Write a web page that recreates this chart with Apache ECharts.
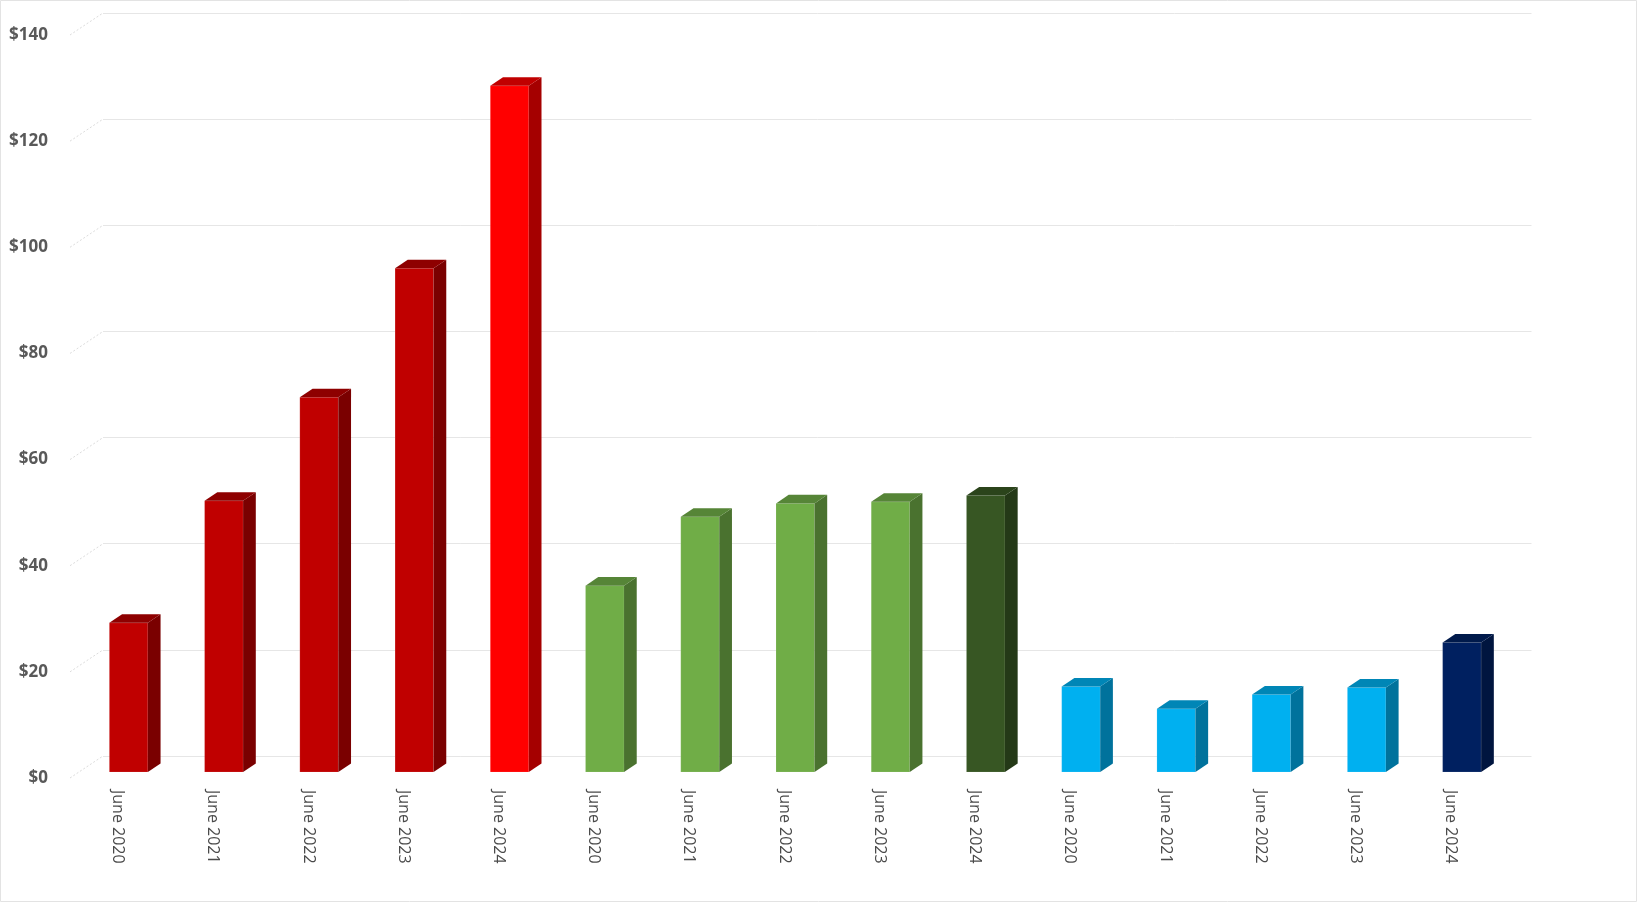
<!DOCTYPE html>
<html lang="en">
<head>
    <meta charset="UTF-8">
    <title>June prices</title>
    <style>
        *{
            padding:0;
            margin:0;
        }
    </style>
    <script src="https://cdn.jsdelivr.net/npm/echarts@6/dist/echarts.min.js"></script>
</head>
<body>
    <div id="main" style="width: 1637px;height: 902px;"></div>
    <script>
        // x axis categories, three groups of five years
        var categories = [
            'June 2020', 'June 2021', 'June 2022', 'June 2023', 'June 2024',
            'June 2020', 'June 2021', 'June 2022', 'June 2023', 'June 2024',
            'June 2020', 'June 2021', 'June 2022', 'June 2023', 'June 2024'
        ];
        var redValues = [28.1, 51.1, 70.6, 94.9, 129.3];
        var greenValues = [35.1, 48.1, 50.6, 50.9, 52.1];
        var blueValues = [16.1, 11.9, 14.6, 15.9, 24.4];
        var yTicks = [0, 20, 40, 60, 80, 100, 120, 140];

        // front / side / top shade for each bar
        var shades = [
            ['#c00000', '#7a0000', '#8e0000'],
            ['#c00000', '#7a0000', '#8e0000'],
            ['#c00000', '#7a0000', '#8e0000'],
            ['#c00000', '#7a0000', '#8e0000'],
            ['#ff0000', '#a50000', '#c00000'],
            ['#70ad47', '#4a722f', '#568537'],
            ['#70ad47', '#4a722f', '#568537'],
            ['#70ad47', '#4a722f', '#568537'],
            ['#70ad47', '#4a722f', '#568537'],
            ['#375623', '#243917', '#2b441b'],
            ['#00b0f0', '#00729c', '#0086b6'],
            ['#00b0f0', '#00729c', '#0086b6'],
            ['#00b0f0', '#00729c', '#0086b6'],
            ['#00b0f0', '#00729c', '#0086b6'],
            ['#002060', '#00153f', '#001a4b']
        ];

        var values = redValues.concat(greenValues, blueValues);
        var barData = values.map(function (v, i) { return [i, v]; });

        var DX = 12.7, DY = -8.6, BAR_W = 38.5;

        function renderBar(params, api) {
            var i = api.value(0);
            var top = api.coord([i, api.value(1)]);
            var base = api.coord([i, 0]);
            var x0 = top[0] - BAR_W / 2, x1 = top[0] + BAR_W / 2;
            var c = shades[i];
            var edge = 'rgba(255,255,255,0.2)';
            return {
                type: 'group',
                children: [
                    {
                        type: 'rect',
                        shape: {x: x0, y: top[1], width: BAR_W, height: base[1] - top[1]},
                        style: {fill: c[0], stroke: edge, lineWidth: 0.6}
                    },
                    {
                        type: 'polygon',
                        shape: {points: [[x1, top[1]], [x1 + DX, top[1] + DY], [x1 + DX, base[1] + DY], [x1, base[1]]]},
                        style: {fill: c[1]}
                    },
                    {
                        type: 'polygon',
                        shape: {points: [[x0, top[1]], [x0 + DX, top[1] + DY], [x1 + DX, top[1] + DY], [x1, top[1]]]},
                        style: {fill: c[2]}
                    }
                ]
            };
        }

        // dotted side-wall lines running from the labels back to the gridlines
        function renderWall(params, api) {
            var y = api.coord([0, api.value(1)])[1];
            var x = params.coordSys.x;
            return {
                type: 'line',
                shape: {x1: x, y1: y, x2: x + 33, y2: y - 22},
                style: {stroke: '#dcdcdc', lineWidth: 1, lineDash: [2, 2]}
            };
        }

        var myChart = echarts.init(document.getElementById('main'));
        var hiddenY = {type: 'value', min: 0, max: 140, interval: 20, axisLabel: {show: false},
            axisLine: {show: false}, axisTick: {show: false}, splitLine: {show: false}};
        var hiddenX = {type: 'category', data: categories, axisLabel: {show: false},
            axisLine: {show: false}, axisTick: {show: false}, splitLine: {show: false}};

        option = {
            backgroundColor: '#fff',
            animation: false,
            graphic: [{
                type: 'rect',
                shape: {x: 0.5, y: 0.5, width: 1636, height: 901},
                style: {fill: 'none', stroke: '#e3e3e3', lineWidth: 1},
                silent: true
            }],
            grid: [
                {left: 70, top: 35, width: 1428.5, height: 743},
                {left: 103, top: 13, width: 1428.5, height: 743},
                {left: 81, top: 29, width: 1428.5, height: 743}
            ],
            xAxis: [
                {
                    type: 'category',
                    gridIndex: 0,
                    data: categories,
                    axisLine: {show: false},
                    axisTick: {show: false},
                    axisLabel: {
                        rotate: -90,
                        margin: 12,
                        interval: 0,
                        color: '#4a4a4a',
                        fontSize: 16,
                        fontWeight: 500,
                        fontFamily: 'Open Sans'
                    }
                },
                Object.assign({gridIndex: 1}, hiddenX),
                Object.assign({gridIndex: 2}, hiddenX)
            ],
            yAxis: [
                {
                    type: 'value',
                    gridIndex: 0,
                    min: 0,
                    max: 140,
                    interval: 20,
                    axisLine: {show: false},
                    axisTick: {show: false},
                    splitLine: {show: false},
                    axisLabel: {
                        margin: 22,
                        color: '#595959',
                        fontSize: 17,
                        fontWeight: 'bold',
                        fontFamily: 'Open Sans',
                        formatter: function (v) { return '$' + v; }
                    }
                },
                {
                    type: 'value',
                    gridIndex: 1,
                    min: 0,
                    max: 140,
                    interval: 20,
                    axisLabel: {show: false},
                    axisLine: {show: false},
                    axisTick: {show: false},
                    splitLine: {lineStyle: {color: '#e6e6e6', width: 1}}
                },
                Object.assign({gridIndex: 2}, hiddenY)
            ],
            series: [
                {
                    type: 'custom',
                    xAxisIndex: 0,
                    yAxisIndex: 0,
                    renderItem: renderWall,
                    data: yTicks.map(function (v) { return [0, v]; }),
                    silent: true
                },
                {
                    name: 'price',
                    type: 'custom',
                    xAxisIndex: 2,
                    yAxisIndex: 2,
                    renderItem: renderBar,
                    data: barData
                }
            ]
        };
        myChart.setOption(option);
    </script>
</body>
</html>
